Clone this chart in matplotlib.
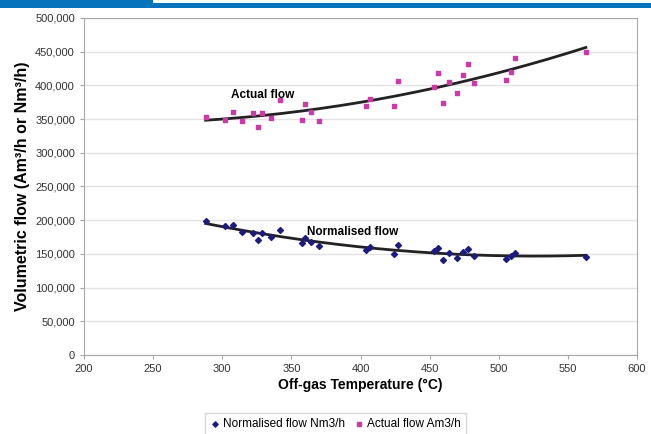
import numpy as np
import matplotlib.pyplot as plt
from matplotlib.patches import Rectangle
from matplotlib.ticker import FuncFormatter

plt.rcParams['font.family'] = ['Liberation Sans', 'DejaVu Sans']

# off-gas temperature for each sample (°C)
temp = [288, 302, 308, 314, 322, 326, 329, 335, 342, 358, 360, 364, 370,
        404, 407, 424, 427, 453, 456, 460, 464, 470, 474, 478, 482, 505,
        509, 512, 563]
# normalised flow, Nm3/h
norm_flow = [199000, 191000, 193000, 182000, 181000, 171000, 181000, 175000,
             185000, 166000, 174000, 168000, 162000, 156000, 160000, 150000,
             163000, 154000, 159000, 141000, 151000, 144000, 153000, 158000,
             147000, 142000, 147000, 151000, 145000]
# actual flow, Am3/h
act_flow = [353000, 349000, 361000, 347000, 359000, 338000, 359000, 352000,
            378000, 349000, 372000, 361000, 347000, 369000, 380000, 369000,
            406000, 398000, 418000, 374000, 405000, 389000, 415000, 432000,
            404000, 408000, 420000, 441000, 450000]

blue = '#1c1c80'
pink = '#cc3aa8'

fig = plt.figure(figsize=(6.51, 4.34), dpi=100)

# header band
fig.patches.append(Rectangle((0, 1 - 8 / 434), 1, 8 / 434, transform=fig.transFigure,
                             facecolor='#0873bd', edgecolor='none'))
fig.patches.append(Rectangle((153 / 651, 1 - 3 / 434), 1, 3 / 434, transform=fig.transFigure,
                             facecolor='white', edgecolor='none'))

ax = fig.add_axes([84 / 651, 1 - 355 / 434, (637 - 84) / 651, (355 - 18) / 434])

t = np.array(temp)
ax.scatter(temp, norm_flow, marker='D', s=9, color=blue, zorder=3,
           label='Normalised flow Nm3/h')
ax.scatter(temp, act_flow, marker='s', s=12, color=pink, zorder=3,
           label='Actual flow Am3/h')

# second-order trendlines
tt = np.linspace(t.min(), t.max(), 200)
for ys in (norm_flow, act_flow):
    c = np.polyfit(t, ys, 2)
    ax.plot(tt, np.polyval(c, tt), color='#222222', lw=2, zorder=2)

ax.text(329, 386000, 'Actual flow', fontsize=8.5, fontweight='bold', ha='center', va='center')
ax.text(394, 182000, 'Normalised flow', fontsize=8.5, fontweight='bold', ha='center', va='center')

ax.set_xlim(200, 600)
ax.set_ylim(0, 500000)
ax.set_xticks(range(200, 601, 50))
ax.set_yticks(range(0, 500001, 50000))
ax.yaxis.set_major_formatter(FuncFormatter(lambda v, p: f'{int(v):,}'))
ax.grid(axis='y', color='#e3e3e3', lw=1)
ax.set_axisbelow(True)
for s in ax.spines.values():
    s.set_color('#a8a8a8')
ax.tick_params(labelsize=8, colors='#a8a8a8', labelcolor='#333333', length=3)

ax.set_xlabel('Off-gas Temperature (°C)', fontsize=10, fontweight='bold', labelpad=3)
ax.set_ylabel('Volumetric flow (Am³/h or Nm³/h)', fontsize=11.5, fontweight='bold', labelpad=4)

leg = ax.legend(loc='upper center', bbox_to_anchor=(0.455, -0.155), ncol=2, fontsize=8.5,
                frameon=True, fancybox=False, edgecolor='#cccccc', handletextpad=0.3,
                columnspacing=0.8, borderpad=0.4, handlelength=0.8, markerscale=0.9)

fig.savefig('out.png', dpi=100)
